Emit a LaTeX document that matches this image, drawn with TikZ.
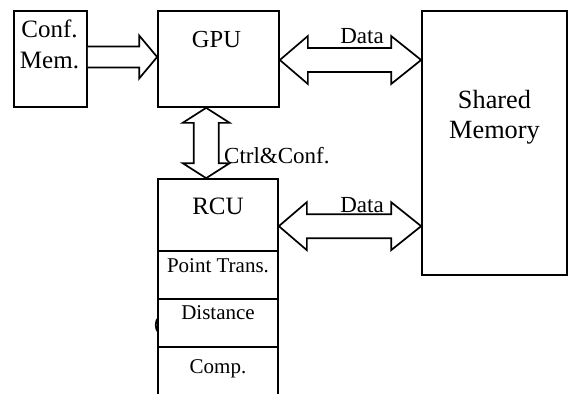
\documentclass[tikz,border=0pt]{standalone}
\usepackage{fontspec}
\setmainfont{Liberation Serif}
\usetikzlibrary{calc}

\tikzset{
  blockbox/.style={draw, line width=1.7pt, rectangle, inner sep=0pt},
  blockarrow/.style={draw, line width=1.7pt, line join=miter, fill=white},
  bigtxt/.style={inner sep=0pt, anchor=base, font=\fontsize{25}{29}\selectfont},
  hugetxt/.style={inner sep=0pt, anchor=base, font=\fontsize{26.3}{30}\selectfont},
  midtxt/.style={inner sep=0pt, anchor=base, font=\fontsize{23}{27}\selectfont},
  smalltxt/.style={inner sep=0pt, anchor=base, font=\fontsize{21}{25}\selectfont},
}

\begin{document}
\begin{tikzpicture}[x=1pt, y=-1pt]
  \useasboundingbox (0,0) rectangle (570,394);

  % main blocks
  \node[blockbox, minimum width=73pt, minimum height=96pt] (conf) at (50.5,59) {};
  \node[blockbox, minimum width=121pt, minimum height=96pt] (gpu) at (218.5,59) {};
  \node[blockbox, minimum width=145pt, minimum height=264pt] (mem) at (494.5,143) {};

  % RCU column
  \node[blockbox, minimum width=120pt, minimum height=72pt] (rcu) at (218,215) {};
  \node[blockbox, minimum width=120pt, minimum height=48pt] (pt) at (218,275) {};
  \node[blockbox, minimum width=120pt, minimum height=48pt] (dist) at (218,323) {};
  \node[inner sep=0pt, minimum width=120pt, minimum height=47pt] (comp) at (218,370.5) {};
  \draw[line width=1.7pt] (comp.south west) -- (comp.north west) -- (comp.north east) -- (comp.south east);
  \draw[line width=1.7pt] (158,318) .. controls (155,321) and (155,329) .. (158,332);

  % texts
  \node[bigtxt] (conft) at (49.5,37) {Conf.};
  \node[bigtxt] (memt) at (49.5,68) {Mem.};
  \node[bigtxt, font=\fontsize{24.5}{28}\selectfont] (gput) at (216.5,47) {GPU};
  \node[hugetxt] (sht) at (494.5,108) {Shared};
  \node[hugetxt] (smt) at (494.5,138) {Memory};
  \node[bigtxt] (rcut) at (218,214) {RCU};
  \node[smalltxt] (ptt) at (218,272) {Point Trans.};
  \node[smalltxt] (distt) at (218,319) {Distance};
  \node[smalltxt] (compt) at (218,373) {Comp.};

  % Conf. Mem. -> GPU
  \coordinate (ct) at ($(gpu.west)+(0,-2)$);
  \coordinate (cs) at (conf.east |- ct);
  \draw[blockarrow] (cs) ++(0,-10.5) -- ($(ct)+(-18,-10.5)$) -- ($(ct)+(-18,-21.5)$) -- (ct)
    -- ($(ct)+(-18,21.5)$) -- ($(ct)+(-18,10.5)$) -- ($(cs)+(0,10.5)$);

  % GPU <-> Shared Memory
  \coordinate (dl) at ($(gpu.east)+(0,1)$);
  \coordinate (dr) at (mem.west |- dl);
  \draw[blockarrow] (dl) -- ($(dl)+(28,-24)$) -- ($(dl)+(28,-12)$) -- ($(dr)+(-30,-12)$)
    -- ($(dr)+(-30,-24)$) -- (dr) -- ($(dr)+(-30,24)$) -- ($(dr)+(-30,12)$)
    -- ($(dl)+(28,12)$) -- ($(dl)+(28,24)$) -- cycle;
  \node[midtxt] (data1) at (362,43) {Data};

  % RCU <-> Shared Memory
  \coordinate (rl) at ($(rcu.north east)+(0,48)$);
  \coordinate (rr) at (mem.west |- rl);
  \draw[blockarrow] (rl) -- ($(rl)+(28,-24)$) -- ($(rl)+(28,-12)$) -- ($(rr)+(-30,-12)$)
    -- ($(rr)+(-30,-24)$) -- (rr) -- ($(rr)+(-30,24)$) -- ($(rr)+(-30,12)$)
    -- ($(rl)+(28,12)$) -- ($(rl)+(28,24)$) -- cycle;
  \node[midtxt] (data2) at (362,212) {Data};

  % GPU <-> RCU control path
  \coordinate (vt) at ($(gpu.south west)+(49,0)$);
  \coordinate (vb) at (vt |- rcu.north);
  \draw[blockarrow] (vt) -- ($(vt)+(23.5,15)$) -- ($(vt)+(12.5,15)$) -- ($(vb)+(12.5,-15)$)
    -- ($(vb)+(23.5,-15)$) -- (vb) -- ($(vb)+(-23.5,-15)$) -- ($(vb)+(-12.5,-15)$)
    -- ($(vt)+(-12.5,15)$) -- ($(vt)+(-23.5,15)$) -- cycle;
  \node[midtxt, anchor=base west] (ctrl) at (224,163) {Ctrl\&Conf.};
\end{tikzpicture}
\end{document}
